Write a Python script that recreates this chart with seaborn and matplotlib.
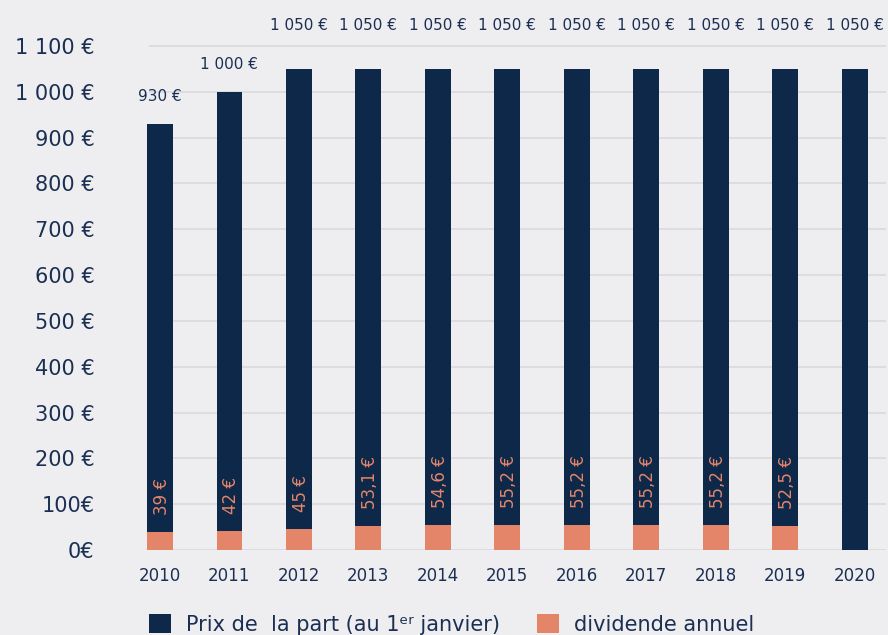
import matplotlib
matplotlib.use("Agg")
import matplotlib.pyplot as plt
from matplotlib.patches import Patch
import seaborn as sns
import pandas as pd
import numpy as np

# ---- data ----
years = ["2010", "2011", "2012", "2013", "2014", "2015", "2016", "2017", "2018", "2019", "2020"]
prix = [930, 1000, 1050, 1050, 1050, 1050, 1050, 1050, 1050, 1050, 1050]
dividende = [39, 42, 45, 53.1, 54.6, 55.2, 55.2, 55.2, 55.2, 52.5, np.nan]
prix_labels = ["930 €", "1 000 €", "1 050 €", "1 050 €", "1 050 €", "1 050 €",
               "1 050 €", "1 050 €", "1 050 €", "1 050 €", "1 050 €"]
div_labels = ["39 €", "42 €", "45 €", "53,1 €", "54,6 €", "55,2 €", "55,2 €",
              "55,2 €", "55,2 €", "52,5 €", ""]
yticks = [0, 100, 200, 300, 400, 500, 600, 700, 800, 900, 1000, 1100]
ytick_labels = ["0€", "100€", "200 €", "300 €", "400 €", "500 €", "600 €",
                "700 €", "800 €", "900 €", "1 000 €", "1 100 €"]
legend_labels = ["Prix de  la part (au 1ᵉʳ janvier)", "dividende annuel"]

# ---- style ----
NAVY = "#0d2848"
SALMON = "#e4856a"
BG = "#eeeef1"
GRID = "#dcdce0"
TEXT = "#1b2f52"

sns.set_theme(style="white")
plt.rcParams["font.family"] = ["DejaVu Sans"]

df = pd.DataFrame({"annee": years, "prix": prix, "dividende": dividende})

fig = plt.figure(figsize=(8.88, 6.35), dpi=100, facecolor=BG)
ax = fig.add_axes([146 / 888, 1 - 550 / 635, (886 - 146) / 888, (550 - 23) / 635])
ax.set_facecolor(BG)

sns.barplot(data=df, x="annee", y="prix", order=years, color=NAVY, width=0.37,
            saturation=1, ax=ax, zorder=2, errorbar=None, linewidth=0)
sns.barplot(data=df, x="annee", y="dividende", order=years, color=SALMON, width=0.37,
            saturation=1, ax=ax, zorder=3, errorbar=None, linewidth=0)

ax.set_xlim(-0.2, 10.45)
ax.set_ylim(0, 1150)

# gridlines
ax.hlines(yticks, -0.15, 10.45, color=GRID, lw=1.3, zorder=1)

ax.set_yticks(yticks)
ax.set_yticklabels(ytick_labels, fontsize=15, color=TEXT)
ax.set_xlabel("")
ax.set_ylabel("")
ax.tick_params(axis="y", length=0, pad=37)
ax.tick_params(axis="x", length=0, pad=12, labelsize=12, labelcolor=TEXT)
for s in ax.spines.values():
    s.set_visible(False)

# price labels
top = max(prix)
for i, (v, lab) in enumerate(zip(prix, prix_labels)):
    off = 36 if v >= top else 20
    ax.annotate(lab, (i, v), xytext=(0, off), textcoords="offset pixels",
                ha="center", va="bottom", fontsize=11, color=TEXT,
                annotation_clip=False)

# dividend labels
for i, (v, lab) in enumerate(zip(dividende, div_labels)):
    if lab and not np.isnan(v):
        ax.annotate(lab, (i, v), xytext=(2, 17), textcoords="offset pixels",
                    ha="center", va="bottom", rotation=90, fontsize=12,
                    color=SALMON, fontweight="medium")

handles = [Patch(facecolor=NAVY, edgecolor="none"), Patch(facecolor=SALMON, edgecolor="none")]
fig.legend(handles, legend_labels, loc="upper left",
           bbox_to_anchor=(149 / 888, 1 - 614 / 635), ncol=2, frameon=False,
           fontsize=15, labelcolor=TEXT, handlelength=1.06, handleheight=1.06,
           handletextpad=0.7, columnspacing=1.8, borderpad=0, borderaxespad=0)

fig.savefig("out.png", dpi=100, facecolor=BG)
